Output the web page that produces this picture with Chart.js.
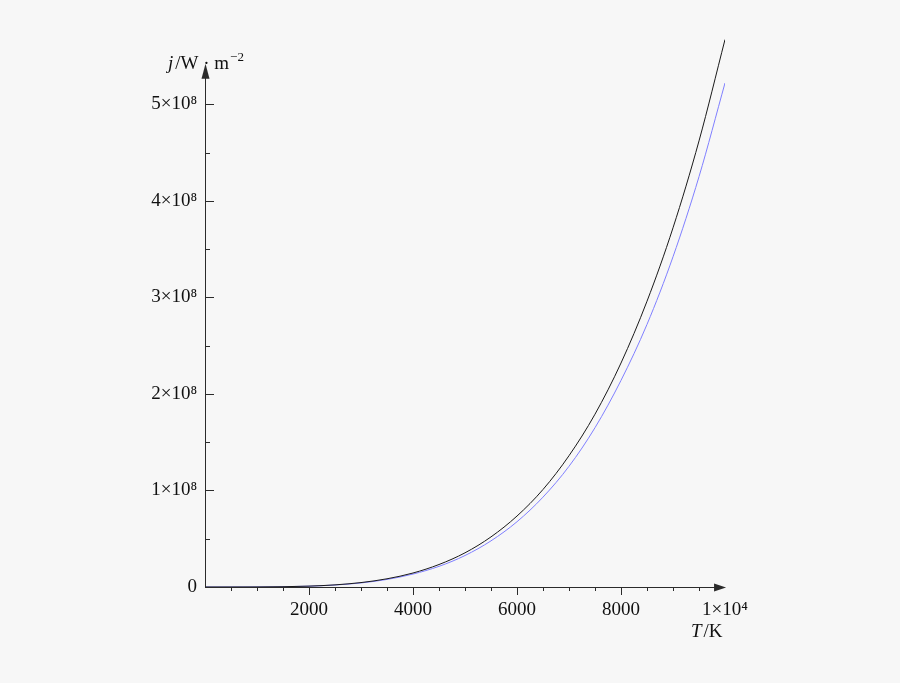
<!DOCTYPE html>
<html lang="en">
  <head>
    <meta charset="UTF-8" />
    <title>j(T)</title>
    <script src="https://cdn.jsdelivr.net/npm/chart.js"></script>
    <style>
      body { margin: 0; background: #f7f7f7; }
      canvas { display: block; }
    </style>
  </head>
  <body>
    <canvas id="myChart" width="900" height="683"></canvas>

    <script>
      // temperatures (K) and flux densities (W/m^2)
      const temps = [0, 500, 1000, 1500, 2000, 2500, 3000, 3500, 4000, 4500, 5000,
        5500, 6000, 6500, 7000, 7500, 8000, 8500, 9000, 9500, 10000];
      const jBlack = [0, 3.5e3, 5.7e4, 2.87e5, 9.1e5, 2.21e6, 4.59e6, 8.5e6, 1.45e7, 2.33e7, 3.54e7,
        5.19e7, 7.35e7, 1.01e8, 1.36e8, 1.79e8, 2.32e8, 2.96e8, 3.72e8, 4.62e8, 5.67e8];
      const jBlue = [0, 3.3e3, 5.2e4, 2.64e5, 8.35e5, 2.04e6, 4.22e6, 7.83e6, 1.34e7, 2.14e7, 3.26e7,
        4.78e7, 6.76e7, 9.31e7, 1.25e8, 1.65e8, 2.14e8, 2.72e8, 3.42e8, 4.25e8, 5.22e8];

      // ticks: minor every 500 K / 0.5e8, labelled ones listed separately
      const xTicks = [500, 1000, 1500, 2000, 2500, 3000, 3500, 4000, 4500, 5000,
        5500, 6000, 6500, 7000, 7500, 8000, 8500, 9000, 9500, 10000];
      const xLabels = { 2000: "2000", 4000: "4000", 6000: "6000", 8000: "8000", 10000: "1×10⁴" };
      const yTicks = [0, 0.5e8, 1e8, 1.5e8, 2e8, 2.5e8, 3e8, 3.5e8, 4e8, 4.5e8, 5e8];
      const yLabels = { 0: "0", 1e8: "1×10⁸", 2e8: "2×10⁸", 3e8: "3×10⁸", 4e8: "4×10⁸", 5e8: "5×10⁸" };

      const font = "'Liberation Serif', 'DejaVu Serif', serif";
      const axisColor = "#2b2b2b";

      const axesPlugin = {
        id: "arrowAxes",
        afterDraw(chart) {
          const ctx = chart.ctx;
          const xs = chart.scales.x;
          const ys = chart.scales.y;
          const x0 = xs.getPixelForValue(0);
          const y0 = ys.getPixelForValue(0);
          const yTip = ys.getPixelForValue(5.42e8);
          const xTip = xs.getPixelForValue(10020);
          ctx.save();
          ctx.strokeStyle = axisColor;
          ctx.fillStyle = axisColor;
          ctx.lineWidth = 1;

          // axis lines
          ctx.beginPath();
          ctx.moveTo(x0 + 0.5, y0);
          ctx.lineTo(x0 + 0.5, yTip + 14);
          ctx.moveTo(x0, y0 + 0.5);
          ctx.lineTo(xTip - 11, y0 + 0.5);
          ctx.stroke();

          // arrow heads
          ctx.beginPath();
          ctx.moveTo(x0 + 0.5, yTip);
          ctx.lineTo(x0 - 3.5, yTip + 15);
          ctx.lineTo(x0 + 4.5, yTip + 15);
          ctx.closePath();
          ctx.fill();
          ctx.beginPath();
          ctx.moveTo(xTip, y0 + 0.5);
          ctx.lineTo(xTip - 12, y0 - 3.5);
          ctx.lineTo(xTip - 12, y0 + 4.5);
          ctx.closePath();
          ctx.fill();

          // tick marks
          ctx.beginPath();
          yTicks.forEach((v) => {
            if (v === 0) return;
            const py = Math.round(ys.getPixelForValue(v)) + 0.5;
            const len = yLabels[v] ? 9 : 5;
            ctx.moveTo(x0, py);
            ctx.lineTo(x0 + len, py);
          });
          xTicks.forEach((v) => {
            if (v >= 10000) return;
            const px = Math.round(xs.getPixelForValue(v)) + 0.5;
            const len = xLabels[v] ? 8 : 4;
            ctx.moveTo(px, y0);
            ctx.lineTo(px, y0 + len);
          });
          ctx.stroke();

          // axis titles
          ctx.fillStyle = "#111";
          ctx.textBaseline = "alphabetic";
          ctx.textAlign = "left";
          let tx = 168;
          const ty = 69;
          ctx.font = "italic 19px " + font;
          ctx.fillText("j", tx, ty);
          tx += ctx.measureText("j").width + 2;
          ctx.font = "19px " + font;
          ctx.fillText("/W · m", tx, ty);
          tx += ctx.measureText("/W · m").width + 1;
          ctx.font = "13px " + font;
          ctx.fillText("−2", tx, ty - 8);

          let kx = 691;
          const ky = 637;
          ctx.font = "italic 19px " + font;
          ctx.fillText("T", kx, ky);
          kx += ctx.measureText("T").width + 2;
          ctx.font = "19px " + font;
          ctx.fillText("/K", kx, ky);
          ctx.restore();
        },
      };

      const config = {
        type: "line",
        data: {
          datasets: [
            {
              label: "black",
              data: temps.map((t, i) => ({ x: t, y: jBlack[i] })),
              borderColor: "#1a1a1a",
              borderWidth: 1,
              pointRadius: 0,
              cubicInterpolationMode: "monotone",
            },
            {
              label: "blue",
              data: temps.map((t, i) => ({ x: t, y: jBlue[i] })),
              borderColor: "#7f7fff",
              borderWidth: 1,
              pointRadius: 0,
              cubicInterpolationMode: "monotone",
            },
          ],
        },
        options: {
          responsive: false,
          animation: false,
          layout: { padding: { top: 27, right: 175, left: 0, bottom: 0 } },
          plugins: { legend: { display: false }, tooltip: { enabled: false } },
          scales: {
            x: {
              type: "linear",
              min: 0,
              max: 10000,
              grid: { display: false, drawTicks: false },
              border: { display: false },
              afterBuildTicks: (scale) => {
                scale.ticks = xTicks.map((v) => ({ value: v }));
              },
              afterFit: (scale) => {
                scale.height = 96;
              },
              ticks: {
                autoSkip: false,
                maxRotation: 0,
                padding: 12,
                color: "#111",
                font: { family: font, size: 19 },
                callback: (v) => xLabels[v] || "",
              },
            },
            y: {
              min: 0,
              max: 5.8e8,
              grid: { display: false, drawTicks: false },
              border: { display: false },
              afterBuildTicks: (scale) => {
                scale.ticks = yTicks.map((v) => ({ value: v }));
              },
              afterFit: (scale) => {
                scale.width = 205;
              },
              ticks: {
                autoSkip: false,
                padding: 8,
                color: "#111",
                font: { family: font, size: 19 },
                callback: (v) => yLabels[v] || "",
              },
            },
          },
        },
        plugins: [axesPlugin],
      };

      new Chart(document.getElementById("myChart"), config);
    </script>
  </body>
</html>
